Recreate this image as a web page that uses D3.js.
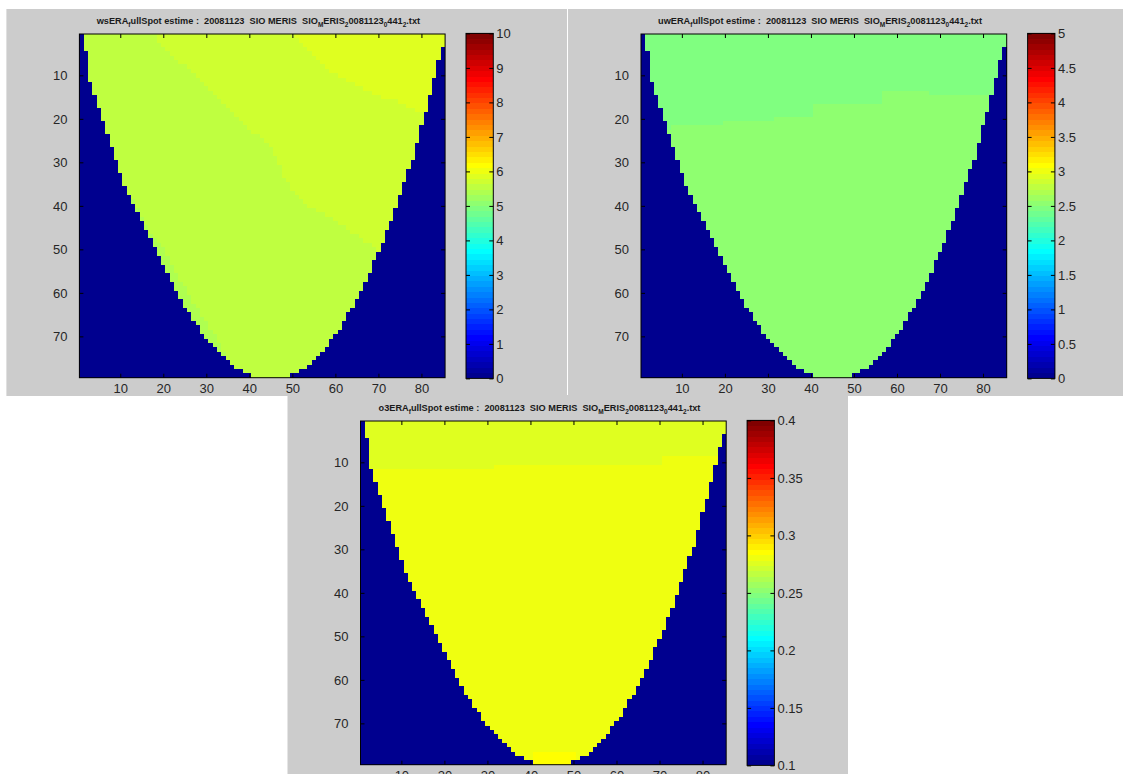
<!DOCTYPE html>
<html>
<head>
<meta charset="utf-8">
<script src="https://cdn.jsdelivr.net/npm/d3@7"></script>
<style>
  body { margin: 0; background: #fff; }
  svg { display: block; }
  text { font-family: 'Liberation Sans', Arial, sans-serif; }
</style>
</head>
<body>
<div id="chart"></div>
<script>
const width = 1123
const height = 774
const nCols = 85
const nRows = 79

// masked (no data) columns on each side of every row, rows 1..79
const leftMask = [1, 1, 1, 1, 2, 2, 2, 2, 2, 2, 2, 3, 3, 3, 4, 4, 4, 5, 5, 5,
  6, 6, 6, 7, 7, 7, 8, 8, 8, 9, 9, 9, 10, 10, 10, 11, 11, 12, 12, 13,
  13, 14, 14, 15, 15, 16, 16, 17, 17, 18, 18, 19, 19, 20, 20, 21, 21, 22, 22, 23,
  23, 24, 24, 25, 26, 26, 27, 28, 28, 29, 30, 31, 32, 33, 34, 35, 36, 38, 40]
const rightMask = [0, 0, 0, 1, 1, 1, 2, 2, 2, 2, 3, 3, 3, 3, 4, 4, 4, 4, 5, 5,
  5, 6, 6, 6, 6, 7, 7, 7, 7, 8, 8, 9, 9, 9, 10, 10, 10, 11, 11, 11,
  12, 12, 12, 13, 13, 14, 14, 14, 15, 15, 16, 16, 17, 17, 17, 18, 18, 19, 19, 20,
  20, 21, 21, 22, 23, 23, 24, 24, 25, 26, 27, 27, 28, 29, 30, 31, 32, 34, 36]

const xTicks = [10, 20, 30, 40, 50, 60, 70, 80]
const yTicks = [10, 20, 30, 40, 50, 60, 70]

// ws panel
const wsDomain = [0, 10]
const wsTicks = [0, 1, 2, 3, 4, 5, 6, 7, 8, 9, 10]
const wsBase = 5.5
const wsMid = [[17.2, 0], [20.7, 4.3], [26.1, 8.9], [30, 12.8], [34.6, 17.4], [39.3, 22], [43.9, 25],
  [46.2, 28.9], [47.8, 32.7], [50.1, 36.5], [53.2, 39.6], [57.9, 42.3], [62.5, 44.9], [66.4, 48],
  [70.3, 50.3], [90, 50.3], [90, 0]]
const wsHigh = [[49.7, 0], [54.8, 5.1], [59.4, 9.7], [64.1, 12], [68.7, 14.3], [74.9, 16.2],
  [80.3, 18.9], [90, 18.9], [90, 0]]
const wsLow = [[13.3, 38.8], [14.5, 41.9], [16, 44.2], [17.2, 46.5], [18.7, 48], [20.3, 50.3],
  [21.4, 52.6], [23, 55.7], [24.5, 58], [26.1, 61], [27.6, 63.3], [29.2, 65.6], [30.7, 67.9],
  [32.3, 70.2], [33.4, 72.1], [34.6, 74.1], [0, 74.1], [0, 38.8]]

// uw panel
const uwDomain = [0, 5]
const uwTicks = [0, 0.5, 1, 1.5, 2, 2.5, 3, 3.5, 4, 4.5, 5]
const uwBase = 2.45
const uwLower = [[0, 22.5], [10, 21.8], [20, 21], [31.8, 20.3], [31.8, 19.5], [40.1, 19.5],
  [40.1, 16.6], [56.8, 16.6], [56.8, 14], [67.7, 14], [67.7, 14.8], [90, 14.8], [90, 90], [0, 90]]

// o3 panel
const o3Domain = [0.1, 0.4]
const o3Ticks = [0.1, 0.15, 0.2, 0.25, 0.3, 0.35, 0.4]
const o3Base = 0.28
const o3Top = [[0, 0], [0, 11.1], [31.9, 11.1], [31.9, 10.5], [70.8, 10.5], [70.8, 8.6], [90, 8.6], [90, 0]]
const o3Bottom = [[40.2, 76.4], [50.9, 76.4], [50.9, 90], [40.2, 90]]

const titleFile = 'SIO MERIS  SIO'

// MATLAB jet(64)
const jet = d3.range(1, 65).map(i => {
  const x = i / 64
  const f = v => Math.max(0, Math.min(1, 1.5 - Math.abs(4 * x - v)))
  return d3.rgb(255 * f(3), 255 * f(2), 255 * f(1)).formatHex()
})

const panels = [
  { x: 6.4, y: 9, name: 'ws', domain: wsDomain, ticks: wsTicks, base: wsBase,
    zones: [{ value: 5.7, polygon: wsMid }, { value: 5.85, polygon: wsHigh }, { value: 5.35, polygon: wsLow }] },
  { x: 568, y: 9, name: 'uw', domain: uwDomain, ticks: uwTicks, base: uwBase,
    zones: [{ value: 2.53, polygon: uwLower }] },
  { x: 287.5, y: 396, name: 'o3', domain: o3Domain, ticks: o3Ticks, base: o3Base,
    zones: [{ value: 0.2755, polygon: o3Top }, { value: 0.2845, polygon: o3Bottom }] },
]

const plot = { left: 73, top: 25, width: 365.7, height: 343.7 }
const bar = { left: 459.6, top: 24.4, width: 27.3, height: 345 }

const svg = d3.select('#chart')
  .append('svg')
    .attr('width', width)
    .attr('height', height)

// figure backgrounds
svg.append('rect').attr('x', 6.4).attr('y', 9).attr('width', 560.6).attr('height', 387).attr('fill', '#cccccc')
svg.append('rect').attr('x', 568).attr('y', 9).attr('width', 555).attr('height', 387).attr('fill', '#cccccc')
svg.append('rect').attr('x', 287.5).attr('y', 395).attr('width', 560.5).attr('height', 379).attr('fill', '#cccccc')

const x_scale = d3.scaleLinear().domain([0.5, nCols + 0.5]).range([0, plot.width])
const y_scale = d3.scaleLinear().domain([0.5, nRows + 0.5]).range([0, plot.height])

const styleAxis = g => g
  .attr('font-size', 13)
  .attr('font-family', "'Liberation Sans', Arial, sans-serif")
  .attr('color', '#000')
  .call(g => g.selectAll('.domain').remove())
  .call(g => g.selectAll('text').attr('fill', '#262626'))

panels.forEach(p => {
  const color = d3.scaleQuantize().domain(p.domain).range(jet)
  const cellValue = (c, r) => {
    let v = p.base
    p.zones.forEach(z => { if (d3.polygonContains(z.polygon, [c, r])) v = z.value })
    return v
  }

  // run-length rows of cells
  const runs = []
  for (let r = 1; r <= nRows; r++) {
    const lo = leftMask[r - 1] + 1
    const hi = nCols - rightMask[r - 1]
    if (lo > 1) runs.push({ r, c0: 1, c1: lo - 1, fill: color(p.domain[0]) })
    let start = lo
    let cur = color(cellValue(lo, r))
    for (let c = lo + 1; c <= hi + 1; c++) {
      const f = c <= hi ? color(cellValue(c, r)) : null
      if (f !== cur) {
        runs.push({ r, c0: start, c1: c - 1, fill: cur })
        start = c
        cur = f
      }
    }
    if (hi < nCols) runs.push({ r, c0: hi + 1, c1: nCols, fill: color(p.domain[0]) })
  }

  const g = svg.append('g')
    .attr('transform', `translate(${p.x + plot.left},${p.y + plot.top})`)

  g.append('g')
    .attr('shape-rendering', 'crispEdges')
    .selectAll('rect')
    .data(runs)
    .enter().append('rect')
      .attr('x', d => x_scale(d.c0 - 0.5))
      .attr('y', d => y_scale(d.r - 0.5))
      .attr('width', d => x_scale(d.c1 + 0.5) - x_scale(d.c0 - 0.5))
      .attr('height', d => y_scale(d.r + 0.5) - y_scale(d.r - 0.5))
      .attr('fill', d => d.fill)

  // axes, ticks inward on all four sides
  g.append('g')
    .attr('transform', `translate(0,${plot.height})`)
    .call(d3.axisBottom(x_scale).tickValues(xTicks).tickSizeInner(-4).tickSizeOuter(0).tickPadding(6))
    .call(styleAxis)
  g.append('g')
    .call(d3.axisTop(x_scale).tickValues(xTicks).tickSizeInner(-4).tickSizeOuter(0).tickFormat(''))
    .call(styleAxis)
  g.append('g')
    .call(d3.axisLeft(y_scale).tickValues(yTicks).tickSizeInner(-4).tickSizeOuter(0).tickPadding(12))
    .call(styleAxis)
  g.append('g')
    .attr('transform', `translate(${plot.width},0)`)
    .call(d3.axisRight(y_scale).tickValues(yTicks).tickSizeInner(-4).tickSizeOuter(0).tickFormat(''))
    .call(styleAxis)
  g.append('rect')
    .attr('width', plot.width)
    .attr('height', plot.height)
    .attr('fill', 'none')
    .attr('stroke', '#000')
    .attr('stroke-width', 1)

  // title with TeX-style subscripts
  const title = svg.append('text')
    .attr('x', p.x + 252)
    .attr('y', p.y + 14.5)
    .attr('text-anchor', 'middle')
    .attr('font-size', 9.2)
    .attr('font-weight', 'bold')
    .attr('fill', '#1a1a1a')
    .style('white-space', 'pre')
  const parts = [
    [p.name + 'ERA', 0], ['f', 1], ['ullSpot estime :  20081123  ' + titleFile, 0], ['M', 1],
    ['ERIS', 0], ['2', 1], ['0081123', 0], ['0', 1], ['441', 0], ['2', 1], ['.txt', 0],
  ]
  let low = false
  parts.forEach(([s, sub]) => {
    const t = title.append('tspan').text(s)
    if (sub && !low) { t.attr('dy', 3).attr('font-size', 6.5); low = true }
    else if (sub) t.attr('font-size', 6.5)
    else if (low) { t.attr('dy', -3); low = false }
  })

  // colorbar
  const bar_scale = d3.scaleLinear().domain(p.domain).range([bar.height, 0])
  const step = (p.domain[1] - p.domain[0]) / jet.length
  const cb = svg.append('g')
    .attr('transform', `translate(${p.x + bar.left},${p.y + bar.top})`)
  cb.append('g')
    .attr('shape-rendering', 'crispEdges')
    .selectAll('rect')
    .data(jet)
    .enter().append('rect')
      .attr('x', 0)
      .attr('y', (d, i) => bar_scale(p.domain[0] + (i + 1) * step))
      .attr('width', bar.width)
      .attr('height', (d, i) => bar_scale(p.domain[0] + i * step) - bar_scale(p.domain[0] + (i + 1) * step))
      .attr('fill', d => d)
  cb.append('g')
    .attr('transform', `translate(${bar.width},0)`)
    .call(d3.axisRight(bar_scale).tickValues(p.ticks).tickSizeInner(-4).tickSizeOuter(0).tickPadding(3)
      .tickFormat(d3.format('')))
    .call(styleAxis)
  cb.append('g')
    .call(d3.axisLeft(bar_scale).tickValues(p.ticks).tickSizeInner(-4).tickSizeOuter(0).tickFormat(''))
    .call(styleAxis)
  cb.append('rect')
    .attr('width', bar.width)
    .attr('height', bar.height)
    .attr('fill', 'none')
    .attr('stroke', '#000')
})
</script>
</body>
</html>
